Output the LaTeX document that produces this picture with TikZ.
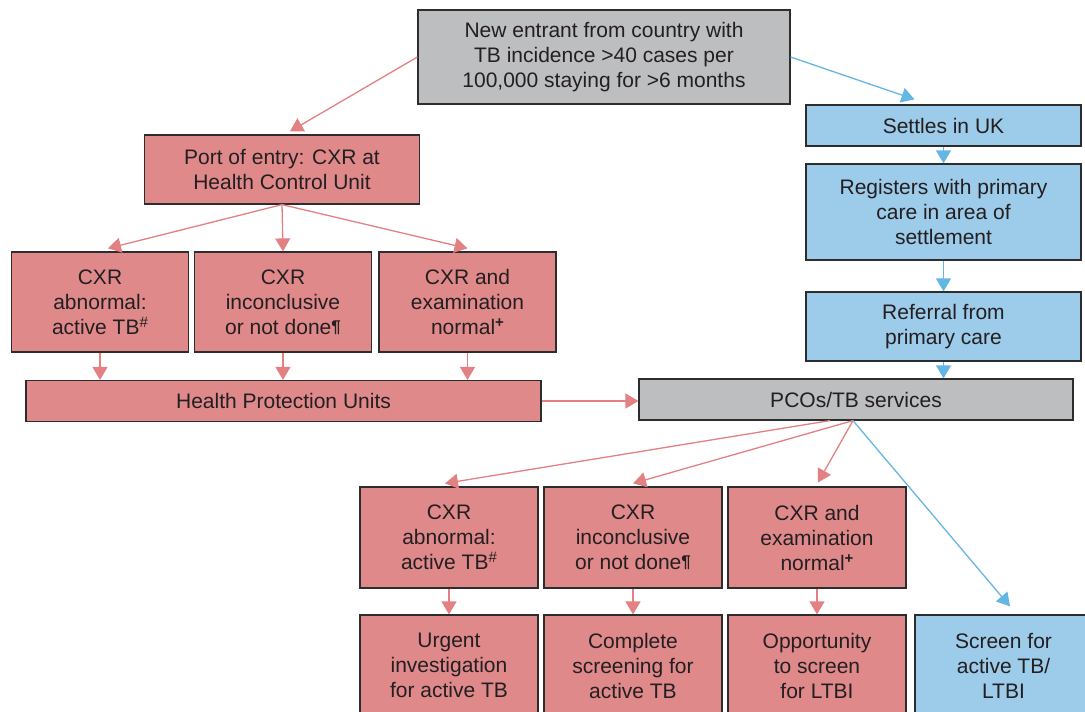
\documentclass[tikz,border=0pt]{standalone}
\usepackage{fontspec}
\setmainfont{Liberation Sans}
\usetikzlibrary{arrows.meta,calc}
\definecolor{redfill}{RGB}{224,137,139}
\definecolor{bluefill}{RGB}{157,203,234}
\definecolor{grayfill}{RGB}{189,190,192}
\definecolor{redline}{RGB}{226,128,130}
\definecolor{blueline}{RGB}{100,182,228}
\definecolor{txt}{RGB}{35,31,32}
\definecolor{edge}{RGB}{45,45,45}
\tikzset{
  box/.style={draw=edge,line width=1.2pt,inner sep=0pt,align=center,text=txt,
    font=\fontsize{21}{25}\selectfont},
  redbox/.style={box,fill=redfill},
  bluebox/.style={box,fill=bluefill},
  graybox/.style={box,fill=grayfill},
  redarr/.style={draw=redline,line width=1.3pt,-{Triangle[length=13pt,width=15pt]}},
  bluearr/.style={draw=blueline,line width=1.3pt,-{Triangle[length=13pt,width=15pt]}},
}
\newcommand{\pil}{{\fontsize{17}{17}\selectfont\raisebox{0.12em}{\bfseries ¶}}}
\newcommand{\hsh}{{\fontsize{15}{15}\selectfont\raisebox{0.45em}{\#}}}
\newcommand{\pls}{{\fontsize{15}{15}\selectfont\raisebox{0.45em}{\bfseries +}}}
\begin{document}
\begin{tikzpicture}[x=1pt,y=-1pt]
\useasboundingbox (0,0) rectangle (1085,712);
\node[graybox,minimum width=372pt,minimum height=94pt] (top) at (604,57)
  {New entrant from country with\\TB incidence >40 cases per\\100,000 staying for >6 months};
\node[bluebox,minimum width=275pt,minimum height=41pt] (settle) at (943.5,125.5) {Settles in UK};
\node[bluebox,minimum width=275pt,minimum height=96pt] (reg) at (943.5,212) {Registers with primary\\care in area of\\settlement};
\node[bluebox,minimum width=275pt,minimum height=69pt] (ref) at (943.5,326.5) {Referral from\\primary care};
\node[graybox,minimum width=434pt,minimum height=41pt] (pco) at (856,399.5) {PCOs/TB services};
\node[redbox,minimum width=275pt,minimum height=69pt] (port) at (282,169.5) {Port of entry: CXR at\\Health Control Unit};
\node[redbox,minimum width=177pt,minimum height=100pt] (r1a) at (100,302) {CXR\\abnormal:\\active TB\hsh};
\node[redbox,minimum width=177pt,minimum height=100pt] (r1b) at (283,302) {CXR\\inconclusive\\or not done\pil};
\node[redbox,minimum width=177pt,minimum height=100pt] (r1c) at (467.5,302) {CXR and\\examination\\normal\pls};
\node[redbox,minimum width=515pt,minimum height=41pt] (hpu) at (283.5,401) {Health Protection Units};
\node[redbox,minimum width=178pt,minimum height=101pt] (r2a) at (449,537.5) {CXR\\abnormal:\\active TB\hsh};
\node[redbox,minimum width=178pt,minimum height=101pt] (r2b) at (633,537.5) {CXR\\inconclusive\\or not done\pil};
\node[redbox,minimum width=178pt,minimum height=101pt] (r2c) at (817,537.5) {CXR and\\examination\\normal\pls};
\node[redbox,minimum width=178pt,minimum height=101pt] (r3a) at (449,665.5) {Urgent\\investigation\\for active TB};
\node[redbox,minimum width=178pt,minimum height=101pt] (r3b) at (633,665.5) {Complete\\screening for\\active TB};
\node[redbox,minimum width=178pt,minimum height=101pt] (r3c) at (817,665.5) {Opportunity\\to screen\\for LTBI};
\node[bluebox,minimum width=177pt,minimum height=101pt] (r3d) at (1003.5,665.5) {Screen for\\active TB/\\LTBI};
% connectors
\coordinate (tportend) at ($(port.north)+(8,-3)$);
\coordinate (tsetend) at ($(settle.north)+(-29,-5)$);
\draw[redarr] (top.west) -- (tportend);
\draw[bluearr] (top.east) -- (tsetend);
\draw[bluearr] (settle.south) -- (reg.north);
\draw[bluearr] (reg.south) -- (ref.north);
\draw[bluearr] (ref.south) -- (ref.south |- pco.north);
\coordinate (p1) at ($(r1a.north)+(8,-3)$);
\coordinate (p3) at ($(r1c.north)+(0,-3)$);
\draw[redarr] (port.south) -- (p1);
\draw[redarr] (port.south) -- (r1b.north);
\draw[redarr] (port.south) -- (p3);
\draw[redarr] (r1a.south) -- (r1a.south |- hpu.north);
\draw[redarr] (r1b.south) -- (r1b.south |- hpu.north);
\draw[redarr] (r1c.south) -- (r1c.south |- hpu.north);
\draw[redarr] (hpu.east) -- (hpu.east -| pco.west);
\coordinate (pa) at ($(pco.south)+(-26,0)$);
\coordinate (pb) at ($(pco.south)+(-3,0)$);
\coordinate (qa) at ($(r2a.north)+(-4,-3)$);
\coordinate (qb) at ($(r2b.north)+(0,-3)$);
\coordinate (qc) at ($(r2c.north)+(1,-4)$);
\coordinate (qd) at ($(r3d.north)+(6.5,-8)$);
\draw[redarr] (pa) -- (qa);
\draw[redarr] (pb) -- (qb);
\draw[redarr] (pb) -- (qc);
\draw[bluearr] (pb) -- (qd);
\draw[redarr] (r2a.south) -- (r3a.north);
\draw[redarr] (r2b.south) -- (r3b.north);
\draw[redarr] (r2c.south) -- (r3c.north);
\end{tikzpicture}
\end{document}
